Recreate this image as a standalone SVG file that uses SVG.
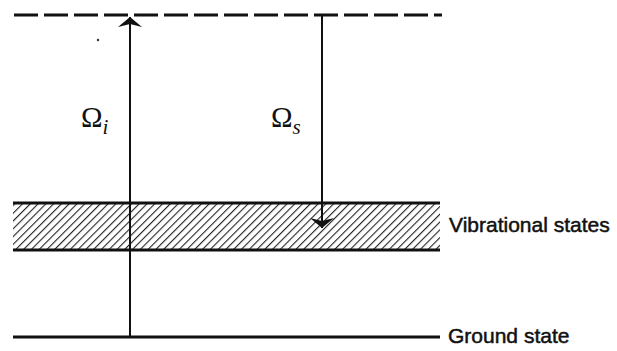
<svg xmlns="http://www.w3.org/2000/svg" width="617" height="351" viewBox="0 0 617 351">
<style>
.lvl{stroke:#111;stroke-width:3;fill:none}
.arr{stroke:#111;stroke-width:2;fill:none}
.lbl{font-family:"Liberation Sans",Arial,sans-serif;font-size:21px;fill:#111;stroke:#111;stroke-width:0.5}
.om{font-family:"Liberation Serif","Times New Roman",serif;font-size:29px;fill:#111}
.sub{font-family:"Liberation Serif","Times New Roman",serif;font-style:italic;font-size:21px;fill:#111}
</style>
<defs>
<pattern id="hatch" patternUnits="userSpaceOnUse" width="5.5" height="5.5" patternTransform="rotate(45)">
<line x1="0" y1="0" x2="0" y2="5.5" stroke="#222" stroke-width="2.2"/>
</pattern>
<marker id="ah" viewBox="0 0 10 24" refX="10" refY="12" markerWidth="10" markerHeight="24" markerUnits="userSpaceOnUse" orient="auto">
<path d="M0,0 L10,12 L0,24 L3,12 Z" fill="#111"/>
</marker>
</defs>
<rect width="617" height="351" fill="#fff"/>
<g id="virtual-level">
<line class="lvl" x1="14" y1="15" x2="442" y2="15" stroke-dasharray="24 6"/>
</g>
<g id="vibrational-states">
<rect x="13" y="203" width="427" height="47" fill="url(#hatch)"/>
<line class="lvl" x1="13" y1="203" x2="440" y2="203"/>
<line class="lvl" x1="13" y1="250" x2="440" y2="250"/>
<text class="lbl" x="449" y="232">Vibrational states</text>
</g>
<g id="ground-state">
<line class="lvl" x1="13" y1="337" x2="440" y2="337"/>
<text class="lbl" x="448" y="343">Ground state</text>
</g>
<g id="connectors">
<line class="arr" x1="130" y1="337" x2="130" y2="17" marker-end="url(#ah)"/>
<line class="arr" x1="322" y1="15" x2="322" y2="228" marker-end="url(#ah)"/>
<text class="om" x="81" y="127">Ω<tspan class="sub" dy="7">i</tspan></text>
<text class="om" x="271" y="127">Ω<tspan class="sub" dy="7">s</tspan></text>
</g>
<circle cx="98" cy="40" r="1.2" fill="#333"/>
</svg>
